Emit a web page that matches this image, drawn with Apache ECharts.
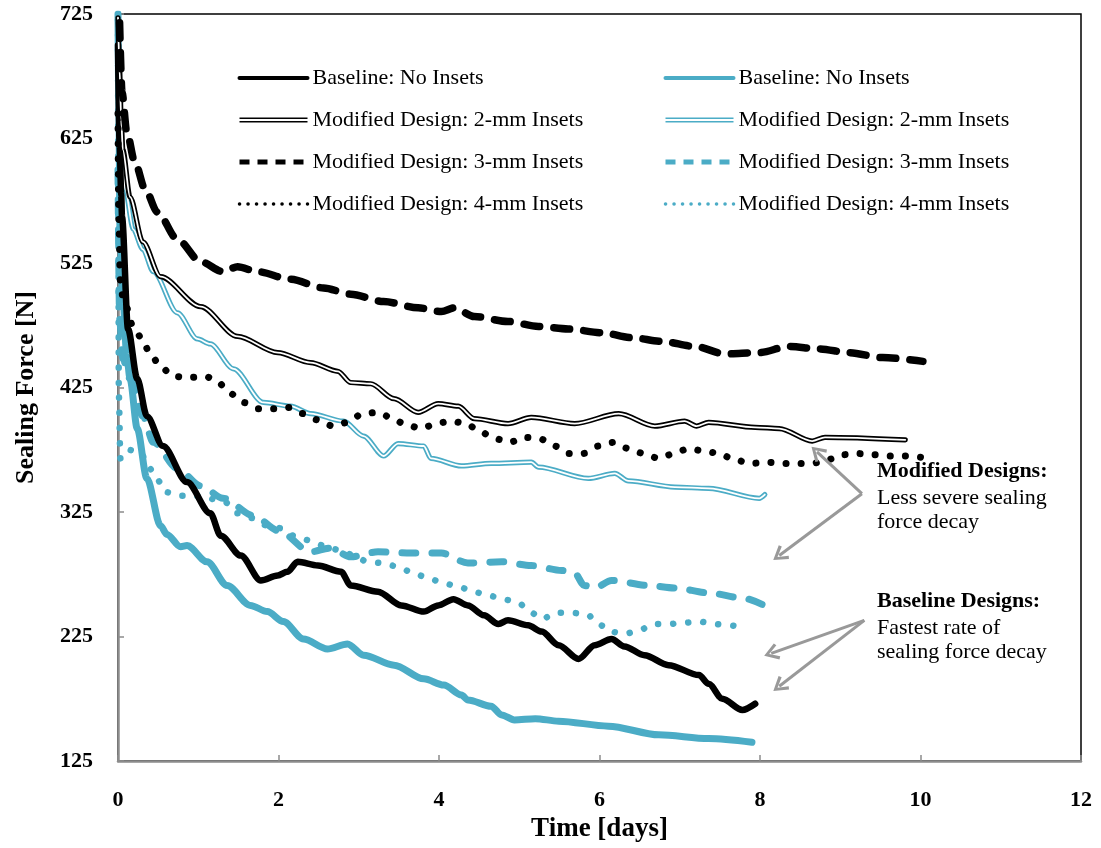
<!DOCTYPE html>
<html><head><meta charset="utf-8">
<script src="https://cdn.jsdelivr.net/npm/echarts@6/dist/echarts.min.js"></script>
<style>html,body{margin:0;padding:0;background:#fff}#chart{width:1101px;height:848px}</style>
</head><body><div id="chart"></div>
<script>
// ---- data ----
const legendNames = ['Baseline: No Insets','Modified Design: 2-mm Insets','Modified Design: 3-mm Insets','Modified Design: 4-mm Insets'];
const yTicks = {min:125, max:725, step:100};
const xTicks = {min:0, max:12, step:2};

const tealBaseline = [[0,725],[0.01,656],[0.025,552],[0.06,498],[0.11,450],[0.15,432],[0.24,392],[0.36,352],[0.53,314],[0.61,307],[0.78,297],[0.86,298],[1.11,285],[1.36,266],[1.65,250],[1.86,245],[2.06,237],[2.31,223],[2.61,215],[2.86,219],[3.06,210],[3.44,202],[3.81,191],[4.06,186],[4.28,178],[4.36,174],[4.65,169],[4.78,162],[4.94,158],[5.2,159],[5.49,157],[6.11,153],[6.74,146],[7.36,143],[7.9,140]];
const tealDouble = [[0,722],[0.03,640],[0.06,600],[0.09,584],[0.19,552],[0.31,536],[0.44,518],[0.74,485],[0.99,464],[1.15,460],[1.44,440],[1.81,413],[2.15,410],[2.4,404],[2.81,398],[3.06,386],[3.31,370],[3.49,380],[3.81,378],[3.9,368],[4.28,362],[4.65,364],[5.15,365],[5.24,361],[5.86,352],[6.19,356],[6.36,350],[6.94,345],[7.36,344],[7.99,336],[8.06,339]];
const tealDashed = [[0,600],[0.02,480],[0.06,448],[0.15,432],[0.31,402],[0.44,381],[0.74,360],[1.03,346],[1.31,336],[1.69,322],[2.0,310],[2.4,293],[2.65,296],[2.9,289],[3.24,293],[3.65,292],[4.03,292],[4.36,284],[4.78,285],[5.15,282],[5.53,278],[5.69,276],[5.81,266],[5.94,264],[6.15,270],[6.61,266],[6.94,264],[7.36,260],[7.78,256],[8.05,250]];
const tealDotted = [[0,720],[0.005,560],[0.01,420],[0.03,368],[0.12,375],[0.28,373],[0.38,361],[0.49,351],[0.59,341],[0.78,338],[0.96,338],[1.11,336],[1.31,334],[1.49,324],[1.69,320],[1.86,314],[2.03,312],[2.19,306],[2.4,302],[2.56,298],[2.78,294],[2.94,290],[3.11,285],[3.3,284],[3.49,281],[3.68,276],[3.86,272],[4.05,268],[4.24,265],[4.43,261],[4.61,258],[4.8,255],[4.99,252],[5.13,245],[5.28,239],[5.46,244],[5.65,244],[5.84,243],[5.99,235],[6.13,229],[6.31,227],[6.49,230],[6.68,235],[6.86,235],[7.03,236],[7.24,237],[7.43,235],[7.61,234],[7.8,232]];

const blackBaseline = [[0,700],[0.02,620],[0.04,580],[0.05,562],[0.125,472],[0.24,432],[0.36,402],[0.56,378],[0.86,349],[1.15,324],[1.28,306],[1.53,290],[1.78,270],[1.99,274],[2.11,277],[2.24,285],[2.49,282],[2.78,277],[2.9,266],[3.24,261],[3.53,250],[3.81,245],[3.99,250],[4.18,255],[4.36,250],[4.56,242],[4.74,235],[4.86,238],[5.11,234],[5.28,229],[5.49,218],[5.74,207],[5.94,218],[6.15,223],[6.31,217],[6.56,210],[6.86,202],[7.24,194],[7.36,187],[7.53,175],[7.78,166],[7.94,171]];
const blackDouble = [[0,722],[0.02,680],[0.04,640],[0.06,616],[0.15,578],[0.31,542],[0.53,514],[1.03,490],[1.49,466],[1.99,453],[2.4,445],[2.74,438],[2.9,429],[3.15,428],[3.44,416],[3.74,405],[3.99,412],[4.24,410],[4.44,400],[4.86,396],[5.15,401],[5.69,396],[6.24,404],[6.69,394],[7.06,398],[7.21,394],[7.36,397],[7.94,393],[8.24,392],[8.65,382],[8.81,385],[9.81,383]];
const blackDashed = [[0.02,718],[0.05,662],[0.11,630],[0.21,606],[0.34,584],[0.49,566],[0.74,544],[1.03,526],[1.31,518],[1.49,522],[1.74,518],[2.15,512],[2.56,505],[2.9,500],[3.31,494],[3.74,489],[4.03,486],[4.19,489],[4.44,482],[4.86,478],[5.24,474],[5.61,472],[6.03,469],[6.4,465],[6.78,462],[7.19,458],[7.56,452],[7.99,453],[8.36,458],[8.74,456],[9.11,453],[9.53,449],[10.03,446]];
const blackDotted = [[0,645],[0.01,560],[0.03,510],[0.06,498],[0.19,474],[0.3,464],[0.4,452],[0.53,442],[0.68,434],[0.88,433],[1.09,434],[1.25,429],[1.38,421],[1.56,413],[1.74,408],[1.94,408],[2.13,409],[2.31,404],[2.49,399],[2.68,394],[2.86,397],[3.05,404],[3.24,405],[3.4,401],[3.59,395],[3.78,392],[3.96,396],[4.15,398],[4.34,396],[4.5,390],[4.69,384],[4.88,381],[5.06,385],[5.25,384],[5.44,378],[5.61,372],[5.8,372],[5.99,378],[6.18,381],[6.36,376],[6.55,372],[6.74,368],[6.93,372],[7.11,376],[7.3,374],[7.49,372],[7.68,367],[7.88,364],[8.09,365],[8.28,364],[8.46,364],[8.65,364],[8.84,367],[9.03,371],[9.21,372],[9.4,371],[9.61,370],[9.81,370],[10.0,369]];

// annotation arrows: [tail, head] in data coordinates
const arrowsModified = [[[9.27,339.7],[8.71,373.3]],[[9.27,339.7],[8.24,290]]];
const arrowsBaseline = [[[9.30,238],[8.14,211.5]],[[9.30,238],[8.24,185]]];
const noteModified = ['Modified Designs:','Less severe sealing','force decay'];
const noteBaseline = ['Baseline Designs:','Fastest rate of','sealing force decay'];

// ---- styles ----
const FONT = '"Liberation Serif", "DejaVu Serif", serif';
const TEAL = '#4BACC6';
const BLACK = '#000000';
const DOUBLE_ICON = 'path://M0,0H68V0.05H0Z M0,3.6H68V5.1H0Z M0,6.9H68V8.4H0Z M0,11.95H68V12H0Z';
const T = 'T|';

function line(name, data, color, width, type, z) {
  return {
    name, type:'line', data, showSymbol:false, symbol:'none', smooth:0.3, smoothMonotone:'x',
    color, z, silent:true, animation:false,
    lineStyle:{color, width, type: type || 'solid', cap:'round', join:'round'}
  };
}
const series = [
  line(T+legendNames[0], tealBaseline, TEAL, 7, 'solid', 2),
  line(T+legendNames[1], tealDouble, TEAL, 5.2, 'solid', 2),
  line('innerT2', tealDouble, '#ffffff', 1.8, 'solid', 2),
  line(T+legendNames[2], tealDashed, TEAL, 7, [14,16], 2),
  line(T+legendNames[3], tealDotted, TEAL, 6.5, [0.1,15], 2),
  line(legendNames[0], blackBaseline, BLACK, 6.5, 'solid', 3),
  line(legendNames[1], blackDouble, BLACK, 5.2, 'solid', 3),
  line('innerK2', blackDouble, '#ffffff', 1.8, 'solid', 3),
  line(legendNames[2], blackDashed, BLACK, 7.5, [16,14], 3),
  line(legendNames[3], blackDotted, BLACK, 7, [0.1,15], 3),
  {
    name:'arrows', type:'line', data:[], silent:true, animation:false, z:4,
    markLine:{
      silent:true, animation:false,
      symbol:['none','path://M5,0 L10,9 L8.4,10.2 L5,3.6 L1.6,10.2 L0,9 Z'], symbolSize:[17,15],
      label:{show:false},
      lineStyle:{color:'#999999', width:3, type:'solid'},
      emphasis:{disabled:true},
      data: arrowsModified.concat(arrowsBaseline).map(a => [{coord:a[0]},{coord:a[1]}])
    }
  }
];

function legendData(prefix, color) {
  return [
    {name: prefix+legendNames[0]},
    {name: prefix+legendNames[1], icon: DOUBLE_ICON, itemStyle:{opacity:1, color}},
    {name: prefix+legendNames[2], lineStyle:{width:5, type:[10,8], cap:'butt'}},
    {name: prefix+legendNames[3], lineStyle:{width:3.5, type:[0.1,8.4], cap:'round'}}
  ];
}
const legendCommon = {
  orient:'vertical', itemWidth:68, itemHeight:12, itemGap:18, selectedMode:false, padding:0,
  formatter: n => n.replace(/^T\|/, ''),
  textStyle:{fontFamily:FONT, fontSize:22, color:'#000', lineHeight:24},
  itemStyle:{opacity:0},
  lineStyle:{width:4}
};

const graphic = [];
function addNote(lines, top) {
  lines.forEach((t,i) => {
    graphic.push({type:'text', left:877, top: top + (i===0?0:(i===1?27:51)), silent:true,
      style:{text:t, fill:'#000', font:(i===0?'bold ':'')+'22px '+FONT}});
  });
}
addNote(noteModified, 460);
addNote(noteBaseline, 590);

const chart = echarts.init(document.getElementById('chart'), null, {renderer:'canvas'});
chart.setOption({
  backgroundColor:'#fff',
  animation:false,
  grid:{left:118, right:20, top:14, bottom:85, show:true, borderColor:'#000', borderWidth:1.5, backgroundColor:'transparent'},
  xAxis:{
    type:'value', min:xTicks.min, max:xTicks.max, interval:xTicks.step,
    axisLine:{show:true, onZero:false, lineStyle:{color:'#8c8c8c', width:2.5}},
    axisTick:{show:true, inside:true, length:6, lineStyle:{color:'#8c8c8c', width:1.5}},
    splitLine:{show:false},
    axisLabel:{fontFamily:FONT, fontWeight:'bold', fontSize:22, color:'#000', margin:28},
    name:'Time [days]', nameLocation:'middle', nameGap:55,
    nameTextStyle:{fontFamily:FONT, fontWeight:'bold', fontSize:27, color:'#000'}
  },
  yAxis:{
    type:'value', min:yTicks.min, max:yTicks.max, interval:yTicks.step,
    axisLine:{show:true, onZero:false, lineStyle:{color:'#8c8c8c', width:2.5}},
    axisTick:{show:true, inside:true, length:6, lineStyle:{color:'#8c8c8c', width:1.5}},
    splitLine:{show:false},
    axisLabel:{fontFamily:FONT, fontWeight:'bold', fontSize:22, color:'#000', margin:25},
    name:'Sealing Force [N]', nameLocation:'middle', nameGap:79,
    nameTextStyle:{fontFamily:FONT, fontWeight:'bold', fontSize:26, color:'#000'}
  },
  legend:[
    Object.assign({}, legendCommon, {left:237, top:66, data:legendData('', BLACK)}),
    Object.assign({}, legendCommon, {left:663, top:66, data:legendData(T, TEAL)})
  ],
  graphic,
  series
});
</script></body></html>
